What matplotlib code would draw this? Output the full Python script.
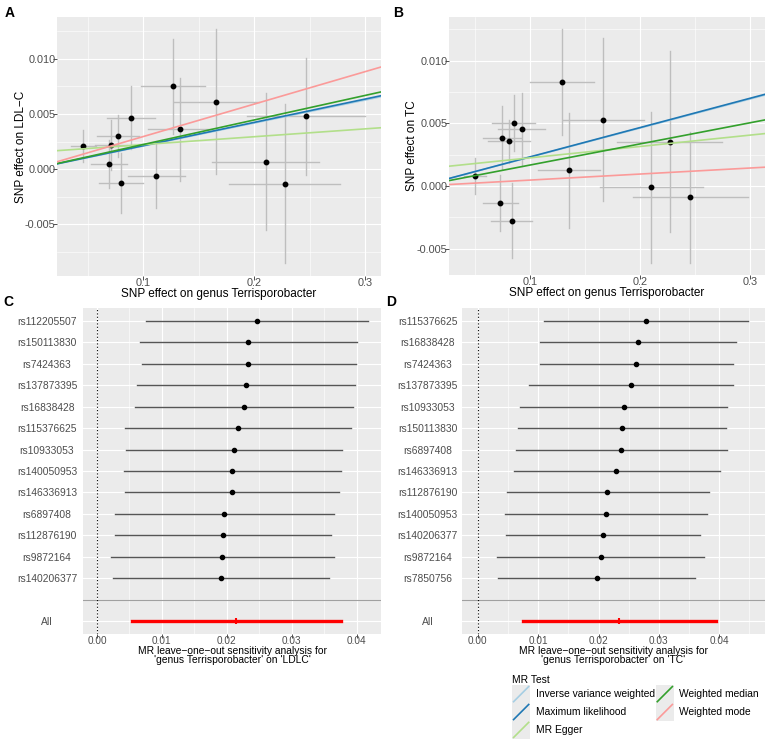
import matplotlib
matplotlib.use('Agg')
import matplotlib.pyplot as plt
from matplotlib.patches import Rectangle
from matplotlib.lines import Line2D
from matplotlib.legend_handler import HandlerBase
from matplotlib.ticker import MultipleLocator

plt.rcParams['font.family'] = ['Liberation Sans', 'DejaVu Sans']

# ---- scatter data (A: LDL-C, B: TC) ----
a_bx = [0.0462, 0.0711, 0.0693, 0.0774, 0.0801, 0.0892, 0.112, 0.127, 0.1334, 0.1659, 0.2104, 0.2272, 0.2468]
a_by = [0.00211, 0.0022, 0.00045, 0.00299, -0.00127, 0.00468, -0.00063, 0.00752, 0.0036, 0.00613, 0.00066, -0.00133, 0.0048]
a_sex = [0.0113, 0.0140, 0.016, 0.019, 0.0195, 0.0217, 0.0256, 0.029, 0.029, 0.038, 0.048, 0.0496, 0.053]
a_sey = [0.00144, 0.00227, 0.0022, 0.0019, 0.0027, 0.0029, 0.0029, 0.0043, 0.0047, 0.0066, 0.0062, 0.0072, 0.0053]

b_bx = [0.0502, 0.0744, 0.0807, 0.0849, 0.0922, 0.0728, 0.0831, 0.1293, 0.1353, 0.1667, 0.2104, 0.227, 0.246]
b_by = [0.00082, 0.00385, 0.00358, 0.00501, 0.00454, -0.00135, -0.00276, 0.0083, 0.00125, 0.0053, -0.0001, 0.00355, -0.0009]
b_sex = [0.010, 0.017, 0.019, 0.0194, 0.0214, 0.016, 0.019, 0.029, 0.028, 0.037, 0.0467, 0.048, 0.052]
b_sey = [0.00143, 0.0025, 0.0017, 0.00225, 0.0029, 0.0022, 0.003, 0.00424, 0.0046, 0.0065, 0.006, 0.0072, 0.0052]

methods = ['Inverse variance weighted', 'Maximum likelihood', 'MR Egger', 'Weighted median', 'Weighted mode']
colors = ['#a6cee3', '#1f78b4', '#b2df8a', '#33a02c', '#fb9a99']
a_slope = [0.0209, 0.0212, 0.00714, 0.0223, 0.0295]
a_icpt = [0.0, 0.0, 0.00151, 0.0, 0.0]
b_slope = [0.0231, 0.0233, 0.00903, 0.0168, 0.0048]
b_icpt = [0.0, 0.0, 0.00135, 0.0, 0.0]

# ---- leave-one-out data (C: LDLC, D: TC) ----
c_snp = ['rs112205507', 'rs150113830', 'rs7424363', 'rs137873395', 'rs16838428', 'rs115376625', 'rs10933053',
         'rs140050953', 'rs146336913', 'rs6897408', 'rs112876190', 'rs9872164', 'rs140206377']
c_b = [0.0246, 0.02333, 0.02333, 0.02297, 0.02262, 0.02169, 0.02113, 0.02087, 0.02077, 0.01964, 0.01938, 0.01933, 0.01908]
c_lo = [0.00759, 0.00667, 0.00687, 0.0062, 0.0059, 0.00436, 0.00451, 0.0042, 0.00431, 0.00282, 0.00272, 0.0022, 0.00251]
c_up = [0.0417, 0.0400, 0.0399, 0.0397, 0.0394, 0.0391, 0.0377, 0.03754, 0.03723, 0.03646, 0.03605, 0.03651, 0.03569]
c_all = [0.02144, 0.00538, 0.03754]

d_snp = ['rs115376625', 'rs16838428', 'rs7424363', 'rs137873395', 'rs10933053', 'rs150113830', 'rs6897408',
         'rs146336913', 'rs112876190', 'rs140050953', 'rs140206377', 'rs9872164', 'rs7850756']
d_b = [0.0278, 0.02654, 0.02621, 0.02533, 0.02418, 0.02385, 0.02379, 0.02297, 0.02148, 0.02121, 0.02071, 0.02033, 0.01967]
d_lo = [0.0110, 0.01033, 0.01022, 0.0084, 0.00703, 0.00659, 0.00637, 0.00593, 0.00478, 0.00456, 0.00473, 0.00324, 0.00335]
d_up = [0.0447, 0.04275, 0.04225, 0.04236, 0.04132, 0.04121, 0.04132, 0.04011, 0.0383, 0.03791, 0.03687, 0.03747, 0.03599]
d_all = [0.02335, 0.00742, 0.0394]

BG = '#EBEBEB'
TXT = '#4D4D4D'


def style(ax, fs):
    ax.set_facecolor(BG)
    for s in ax.spines.values():
        s.set_visible(False)
    ax.grid(True, which='major', color='white', lw=0.85)
    ax.grid(True, which='minor', color='white', lw=0.4)
    ax.set_axisbelow(True)
    ax.tick_params(which='major', length=2.75, width=0.6, color='#333333', labelcolor=TXT, labelsize=fs, pad=-1.6)
    ax.tick_params(which='minor', length=0)


def scatter_panel(ax, bx, by, sex, sey, slopes, icpts, ylab, xlim, ylim, ylx):
    style(ax, 7.8)
    for x, y, ex, ey in zip(bx, by, sex, sey):
        ax.plot([x - ex, x + ex], [y, y], color='#bebebe', lw=1.0, zorder=2)
        ax.plot([x, x], [y - ey, y + ey], color='#bebebe', lw=1.0, zorder=2)
    ax.plot(bx, by, 'o', color='black', ms=3.2, zorder=3)
    for m, c, s, i in zip(methods, colors, slopes, icpts):
        ax.axline((0, i), slope=s, color=c, lw=1.2, zorder=4)
    ax.set_xlim(*xlim)
    ax.set_ylim(*ylim)
    ax.xaxis.set_minor_locator(MultipleLocator(0.05))
    ax.yaxis.set_minor_locator(MultipleLocator(0.0025))
    xt = [0.1, 0.2, 0.3]
    ax.set_xticks(xt)
    ax.set_xticklabels([str(v) for v in xt])
    yt = [-0.005, 0.0, 0.005, 0.010]
    ax.set_yticks(yt)
    ax.set_yticklabels(['-0.005', '0.000', '0.005', '0.010'])
    ax.set_xlabel('SNP effect on genus Terrisporobacter', fontsize=8.5, labelpad=0)
    ax.set_ylabel(ylab, fontsize=8.5)
    ax.yaxis.set_label_coords(ylx, 0.5)


def forest_panel(ax, snps, b, lo, up, allv, xlim, title, pad):
    style(ax, 7.2)
    n = len(snps)
    ypos = list(range(n + 2, 2, -1))
    for y, v, l, u in zip(ypos, b, lo, up):
        ax.plot([l, u], [y, y], color='#555555', lw=1.0, zorder=2)
    ax.plot(b, ypos, 'o', color='black', ms=3.0, zorder=3)
    ax.plot([allv[1], allv[2]], [1, 1], color='#ff0000', lw=2.4, zorder=2)
    ax.plot([allv[0]], [1], '|', color='#ff0000', ms=4, mew=1.5, zorder=3)
    ax.axhline(2, color='#a0a0a0', lw=0.8, zorder=1.5)
    ax.axvline(0, color='black', lw=0.8, ls=(0, (1, 2)), zorder=1.6)
    ax.set_yticks([1, 2] + ypos[::-1])
    ax.set_yticklabels(['All', ''] + snps[::-1], ha='center', fontsize=7.4)
    ax.tick_params(axis='y', length=0, pad=pad)
    ax.set_ylim(0.4, n + 2.6)
    ax.set_xlim(*xlim)
    ax.xaxis.set_minor_locator(MultipleLocator(0.005))
    xt = [0.0, 0.01, 0.02, 0.03, 0.04]
    ax.set_xticks(xt)
    ax.set_xticklabels(['0.00', '0.01', '0.02', '0.03', '0.04'])
    ax.set_xlabel(title, fontsize=7.4, labelpad=0.3, linespacing=0.82)


fig = plt.figure(figsize=(7.67, 7.45), dpi=100)

axA = fig.add_axes([57 / 767, 1 - 276 / 745, 324 / 767, 259 / 745])
scatter_panel(axA, a_bx, a_by, a_sex, a_sey, a_slope, a_icpt, 'SNP effect on LDL\u2212C',
              (0.0225, 0.314), (-0.0097, 0.0138), -0.093)

axB = fig.add_axes([449 / 767, 1 - 275 / 745, 316 / 767, 258 / 745])
scatter_panel(axB, b_bx, b_by, b_sex, b_sey, b_slope, b_icpt, 'SNP effect on TC',
              (0.0261, 0.3139), (-0.00708, 0.01347), -0.099)

axC = fig.add_axes([83 / 767, 1 - 634 / 745, 298 / 767, 326 / 745])
forest_panel(axC, c_snp, c_b, c_lo, c_up, c_all, (-0.00215, 0.04374),
             "MR leave\u2212one\u2212out sensitivity analysis for\n'genus Terrisporobacter' on 'LDLC'", 25.9)

axD = fig.add_axes([462 / 767, 1 - 634 / 745, 303 / 767, 326 / 745])
forest_panel(axD, d_snp, d_b, d_lo, d_up, d_all, (-0.00264, 0.0476),
             "MR leave\u2212one\u2212out sensitivity analysis for\n'genus Terrisporobacter' on 'TC'", 24.7)

for lab, x, y in [('A', 10, 13), ('B', 398, 13), ('C', 8, 302), ('D', 391, 302)]:
    fig.text(x / 767, 1 - y / 745, lab, fontsize=10, fontweight='bold', ha='center', va='center')


class KeyHandler(HandlerBase):
    def create_artists(self, legend, orig_handle, xdescent, ydescent, width, height, fontsize, trans):
        x0, y0 = -xdescent, -ydescent
        r = Rectangle((x0, y0), width, height, fc=BG, ec='none', transform=trans)
        ln = Line2D([x0 + 1, x0 + width - 1], [y0 + 1, y0 + height - 1], color=orig_handle.get_color(),
                    lw=1.2, transform=trans)
        return [r, ln]


handles = [Line2D([], [], color=c) for c in colors]
leg = fig.legend(handles, methods, handler_map={Line2D: KeyHandler()}, ncol=2,
                 loc='upper left', bbox_to_anchor=(505 / 767, 1 - 668 / 745), frameon=False,
                 title='MR Test', fontsize=7.4, title_fontsize=7.4, handlelength=1.74, handleheight=2.3,
                 labelspacing=0.0, handletextpad=0.55, columnspacing=0.1, borderpad=0.2)
leg._legend_box.align = 'left'

fig.savefig('out.png', dpi=100)
